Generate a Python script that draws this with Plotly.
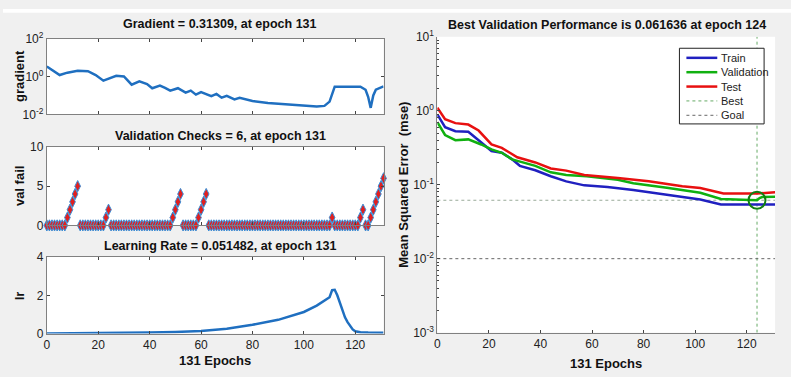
import plotly.graph_objects as go

# ---------------- data ----------------
grad_epoch = [0, 2, 5, 8, 12, 16, 19, 22, 25, 27, 30, 33, 36, 39, 41, 44, 46, 48, 51, 54, 56, 58, 60,
              64, 66, 68, 70, 73, 75, 80, 86, 93, 99, 105, 108, 110, 112, 117, 122, 124, 125, 126, 127, 128, 131]
grad_value = [3.4, 2.2, 1.2, 1.6, 2.0, 1.9, 1.2, 0.6, 0.9, 1.1, 1.0, 0.37, 0.55, 0.40, 0.24, 0.33, 0.25, 0.18,
              0.24, 0.14, 0.18, 0.11, 0.15, 0.092, 0.12, 0.076, 0.095, 0.062, 0.075, 0.051, 0.04, 0.035,
              0.031, 0.026, 0.028, 0.047, 0.29, 0.29, 0.29, 0.2, 0.085, 0.022, 0.1, 0.2, 0.3]

val_fail = ([0] * 8 + [1, 2, 3, 4, 5] + [0] * 10 + [1, 2] + [0] * 24 + [1, 2, 3, 4] + [0] * 6 +
            [1, 2, 3, 4] + [0] * 48 + [1] + [0] * 10 + [1, 2] + [0, 0] + [1, 2, 3, 4, 5, 6])
val_epoch = list(range(len(val_fail)))

lr_epoch = [0, 10, 20, 30, 40, 50, 60, 70, 80, 90, 100, 105, 110, 111, 112, 113, 114, 115, 116, 117,
            118, 119, 120, 122, 125, 131]
lr_value = [0.01, 0.015, 0.025, 0.04, 0.06, 0.09, 0.14, 0.25, 0.46, 0.72, 1.13, 1.46, 1.9, 2.27, 2.29,
            2.0, 1.6, 1.2, 0.85, 0.6, 0.4, 0.22, 0.12, 0.07, 0.055, 0.051]

train_epoch = [0, 3, 7, 12, 16, 21, 25, 29, 32, 38, 44, 50, 57, 66, 76, 89, 102, 110, 124, 131]
train_mse = [0.89, 0.6, 0.53, 0.52, 0.4, 0.285, 0.27, 0.22, 0.18, 0.157, 0.13, 0.111, 0.098, 0.093,
             0.085, 0.073, 0.063, 0.054, 0.054, 0.054]
valid_epoch = [0, 3, 7, 12, 17, 21, 25, 29, 38, 44, 50, 58, 70, 76, 89, 102, 110, 123, 124, 125, 126, 131]
valid_mse = [0.70, 0.47, 0.40, 0.41, 0.35, 0.30, 0.27, 0.22, 0.18, 0.147, 0.135, 0.13, 0.117, 0.105,
             0.091, 0.078, 0.064, 0.062, 0.0616, 0.066, 0.068, 0.069]
test_epoch = [0, 3, 7, 12, 16, 21, 25, 31, 38, 44, 50, 57, 70, 82, 95, 102, 111, 124, 131]
test_mse = [1.1, 0.77, 0.68, 0.65, 0.54, 0.35, 0.315, 0.235, 0.2, 0.166, 0.155, 0.135, 0.123, 0.111,
            0.095, 0.09, 0.076, 0.076, 0.079]

best_epoch = 124
best_perf = 0.061636
goal = 0.01
n_epochs = 131

x_ticks = [0, 20, 40, 60, 80, 100, 120]

legend_names = ["Train", "Validation", "Test", "Best", "Goal"]

# ---------------- styles ----------------
W, H = 791, 377
FONT = "Liberation Sans, Arial, sans-serif"
C_TRAIN, C_VAL, C_TEST = "#2020c0", "#10b010", "#e81010"
C_BEST, C_GOAL = "#66aa66", "#666666"
legend_styles = [dict(color=C_TRAIN, width=2.5), dict(color=C_VAL, width=2.5), dict(color=C_TEST, width=2.5),
                 dict(color=C_BEST, width=1, dash="dot"), dict(color=C_GOAL, width=1, dash="dot")]


def dx(px):
    return px / W


def dy(py):
    return 1 - py / H


fig = go.Figure()

# gradient
fig.add_trace(go.Scatter(x=grad_epoch, y=grad_value, mode="lines", line=dict(color="#1f6fc0", width=2.5),
                         xaxis="x", yaxis="y", showlegend=False))
# validation checks
fig.add_trace(go.Scatter(x=val_epoch, y=val_fail, mode="markers", cliponaxis=False,
                         marker=dict(symbol="diamond-tall", size=8, color="#e02020",
                                     line=dict(color="#3a8fd8", width=1)),
                         xaxis="x2", yaxis="y2", showlegend=False))
# learning rate
fig.add_trace(go.Scatter(x=lr_epoch, y=lr_value, mode="lines", line=dict(color="#1f6fc0", width=2.5),
                         xaxis="x3", yaxis="y3", showlegend=False, cliponaxis=False))

# performance
fig.add_trace(go.Scatter(x=[0, n_epochs], y=[best_perf, best_perf], mode="lines", showlegend=False,
                         line=dict(color="#99aa99", width=1, dash="dot"), xaxis="x4", yaxis="y4"))
fig.add_trace(go.Scatter(x=[best_epoch, best_epoch], y=[1e-3, 10], mode="lines", showlegend=False,
                         line=legend_styles[3], xaxis="x4", yaxis="y4"))
fig.add_trace(go.Scatter(x=[0, n_epochs], y=[goal, goal], mode="lines", showlegend=False,
                         line=legend_styles[4], xaxis="x4", yaxis="y4"))
fig.add_trace(go.Scatter(x=train_epoch, y=train_mse, mode="lines", showlegend=False,
                         line=legend_styles[0], xaxis="x4", yaxis="y4"))
fig.add_trace(go.Scatter(x=valid_epoch, y=valid_mse, mode="lines", showlegend=False,
                         line=legend_styles[1], xaxis="x4", yaxis="y4"))
fig.add_trace(go.Scatter(x=test_epoch, y=test_mse, mode="lines", showlegend=False,
                         line=legend_styles[2], xaxis="x4", yaxis="y4"))
fig.add_trace(go.Scatter(x=[best_epoch], y=[best_perf], mode="markers", showlegend=False,
                         marker=dict(symbol="circle-open", size=17, color="#108010",
                                     line=dict(width=2, color="#108010")),
                         xaxis="x4", yaxis="y4"))

tickfont = dict(family=FONT, size=12, color="#222")
left_dom = [dx(44), dx(382)]


def left_x(dom_anchor, labels):
    return dict(domain=left_dom, anchor=dom_anchor, range=[0, n_epochs], tickvals=x_ticks,
                showticklabels=labels, ticks="inside", ticklen=3, tickcolor="#444",
                showline=True, linecolor="#808080", linewidth=1, mirror="ticks",
                showgrid=False, zeroline=False, tickfont=tickfont)


def left_y(dom, xa, **kw):
    d = dict(domain=dom, anchor=xa, ticks="inside", ticklen=3, tickcolor="#444",
             showline=True, linecolor="#808080", linewidth=1, mirror="ticks",
             showgrid=False, zeroline=False, tickfont=tickfont)
    d.update(kw)
    return d


fig.update_layout(
    width=W, height=H,
    margin=dict(l=0, r=0, t=0, b=0),
    paper_bgcolor="#f0f0f0", plot_bgcolor="white",
    font=dict(family=FONT, size=11, color="#222"),
    showlegend=False,
    xaxis=left_x("y", False),
    yaxis=left_y([dy(110), dy(31)], "x", type="log", range=[-2, 2], tickvals=[0.01, 1, 100],
                 ticktext=["10<sup>-2</sup>", "10<sup>0</sup>", "10<sup>2</sup>"]),
    xaxis2=left_x("y2", False),
    yaxis2=left_y([dy(226), dy(144)], "x2", range=[0, 10], tickvals=[0, 5, 10]),
    xaxis3=left_x("y3", True),
    yaxis3=left_y([dy(339), dy(259)], "x3", range=[0, 4], tickvals=[0, 2, 4]),
    xaxis4=dict(domain=[dx(436), dx(775)], anchor="y4", range=[0, n_epochs], tickvals=x_ticks,
                ticks="inside", ticklen=3, tickcolor="#444", showline=True, linecolor="#808080",
                showgrid=False, zeroline=False, tickfont=tickfont),
    yaxis4=dict(domain=[dy(338), dy(29)], anchor="x4", type="log", range=[-3, 1],
                tickvals=[0.001, 0.01, 0.1, 1, 10],
                ticktext=["10<sup>-3</sup>", "10<sup>-2</sup>", "10<sup>-1</sup>", "10<sup>0</sup>",
                          "10<sup>1</sup>"],
                ticks="inside", ticklen=3, tickcolor="#444", showline=True, linecolor="#808080",
                minor=dict(ticks="inside", ticklen=2, tickcolor="#444", dtick="D1"),
                showgrid=False, zeroline=False, tickfont=tickfont),
)

# white strip at the very top
fig.add_shape(type="rect", xref="paper", yref="paper", x0=0, x1=1, y0=dy(4), y1=1,
              fillcolor="white", line=dict(width=0), layer="below")

# legend box (drawn manually to match the compact MATLAB legend)
fig.add_shape(type="rect", xref="paper", yref="paper", x0=dx(679), x1=dx(764), y0=dy(120), y1=dy(41),
              fillcolor="white", line=dict(color="#222", width=1))
leg_rows = [51, 66, 81, 96, 111]
for name, style, row in zip(legend_names, legend_styles, leg_rows):
    fig.add_shape(type="line", xref="paper", yref="paper", x0=dx(686), x1=dx(717), y0=dy(row), y1=dy(row),
                  line=style)
    fig.add_annotation(text=name, x=dx(719), y=dy(row), xref="paper", yref="paper", showarrow=False,
                       xanchor="left", yanchor="middle", font=dict(family=FONT, size=11, color="#222"))

title_font = dict(family=FONT, size=12.5, color="#111", weight="bold")
label_font = dict(family=FONT, size=13, color="#111", weight="bold")


def ann(text, x, y, font, angle=0):
    fig.add_annotation(text=text, x=dx(x), y=dy(y), xref="paper", yref="paper", showarrow=False,
                       xanchor="center", yanchor="middle", font=font, textangle=angle)


ann("Gradient = 0.31309, at epoch 131", 218, 16, title_font)
ann("Validation Checks = 6, at epoch 131", 218, 133, title_font)
ann("Learning Rate = 0.051482, at epoch 131", 218, 248, title_font)
ann("Best Validation Performance is 0.061636 at epoch 124", 606, 17, title_font)
ann("gradient", 16, 70, label_font, -90)
ann("val fail", 16, 185, label_font, -90)
ann("lr", 16, 299, label_font, -90)
ann("131 Epochs", 213, 367, label_font)
ann("131 Epochs", 605, 370, label_font)
ann("Mean Squared Error  (mse)", 402, 183, label_font, -90)

fig.write_html("out.html", config={"displayModeBar": False},
               post_script="document.body.style.margin='0';")
